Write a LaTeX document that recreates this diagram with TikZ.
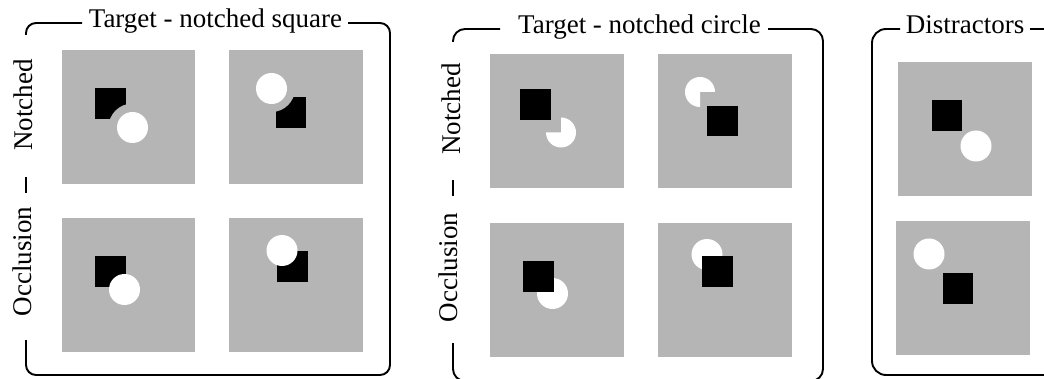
\documentclass[tikz,border=0pt]{standalone}
\usepackage{fontspec}
\setmainfont{Liberation Serif}
\definecolor{stimgray}{RGB}{181,181,181}
\begin{document}
\begin{tikzpicture}[x=1pt,y=-1pt,
  frame/.style={line width=1.9pt, draw=black},
  lbl/.style={font=\fontsize{27}{32}\selectfont, inner sep=0pt, text=black},
  side/.style={lbl, rotate=90},
  stim/.style={fill=stimgray},
  blk/.style={fill=black},
  wht/.style={fill=white}]
\useasboundingbox (0,0) rectangle (1044,379);
\clip (0,0) rectangle (1044,379);

% ---------------- Panel 1: Target - notched square ----------------
\draw[frame, rounded corners=10] (26,35) -- (26,23) -- (82,23);
\draw[frame, rounded corners=10] (348,23) -- (390,23) -- (390,375) -- (26,375) -- (26,340);
\draw[frame] (26,177) -- (26,193);
\node[lbl, anchor=base] (t1) at (215.5,28) {Target - notched square};
\node[side] (n1) at (23,105) {Notched};
\node[side] (o1) at (22,261.5) {Occlusion};

% stimulus boxes
\fill[stim] (62,50) rectangle (195,184);
\fill[stim] (229,50) rectangle (363,184);
\fill[stim] (62,218) rectangle (195,352);
\fill[stim] (229,218) rectangle (363,352);
% TL: notched square
\fill[blk] (95,88) rectangle (126,119);
\fill[stim] (132.5,127.5) circle[radius=24];
\fill[wht] (132.5,127.5) circle[radius=15.5];
% TR: notched square
\fill[blk] (276,97) rectangle (306,128);
\fill[stim] (271.5,88.5) circle[radius=23.5];
\fill[wht] (271.5,88.5) circle[radius=15.5];
% BL: occlusion
\fill[blk] (95,256) rectangle (126,287);
\fill[wht] (124.5,289.5) circle[radius=15.5];
% BR: occlusion
\fill[blk] (277,251) rectangle (308,282);
\fill[wht] (282,250.5) circle[radius=15.5];

% ---------------- Panel 2: Target - notched circle ----------------
\draw[frame, rounded corners=12] (453,42) -- (453,29) -- (500,29);
\draw[frame, rounded corners=12] (768,29) -- (823,29) -- (823,381) -- (453,381) -- (453,343);
\draw[frame] (453,180) -- (453,196);
\node[lbl, anchor=base] (t2) at (639.5,34) {Target - notched circle};
\node[side] (n2) at (451,109) {Notched};
\node[side] (o2) at (448,267.5) {Occlusion};

\fill[stim] (490,54) rectangle (624,188);
\fill[stim] (658,54) rectangle (792,188);
\fill[stim] (490,223) rectangle (624,357);
\fill[stim] (658,223) rectangle (792,357);
% TL: notched circle (missing top-left quadrant)
\fill[blk] (520,89) rectangle (551,120);
\fill[wht] (561,132.5) -- +(-90:15) arc[start angle=-90, end angle=180, radius=15] -- cycle;
% TR: notched circle (missing bottom-right quadrant)
\fill[wht] (700,92) -- +(90:15) arc[start angle=90, end angle=360, radius=15] -- cycle;
\fill[blk] (707,106) rectangle (738,136);
% BL: occlusion (square in front)
\fill[wht] (552.5,293.5) circle[radius=15.5];
\fill[blk] (523,261) rectangle (554,292);
% BR: occlusion (square in front)
\fill[wht] (707,254.5) circle[radius=15.5];
\fill[blk] (702,256) rectangle (733,287);

% ---------------- Panel 3: Distractors ----------------
\draw[frame, rounded corners=14] (900,29) -- (872,29) -- (872,375) -- (1060,375);
\draw[frame] (1030,29) -- (1060,29);
\node[lbl, anchor=base] (t3) at (965,34) {Distractors};

\fill[stim] (898,62) rectangle (1032,196);
\fill[stim] (896,221) rectangle (1030,355);
\fill[blk] (932,100) rectangle (962,131);
\fill[wht] (976,146) circle[radius=15.5];
\fill[wht] (929,254) circle[radius=15.5];
\fill[blk] (943,273) rectangle (973,304);
\end{tikzpicture}
\end{document}
